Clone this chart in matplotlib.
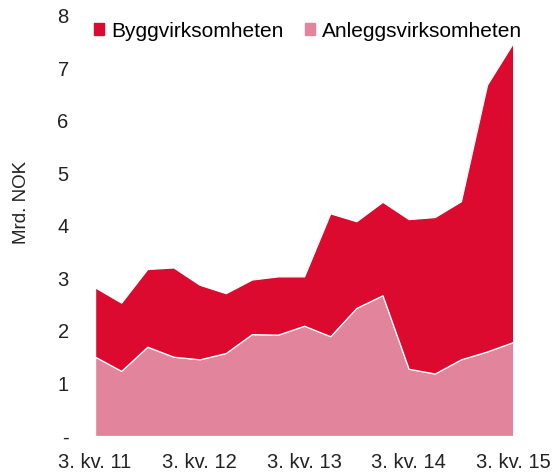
import numpy as np
import matplotlib
matplotlib.use('Agg')
import matplotlib.pyplot as plt
from matplotlib.patches import Patch

plt.rcParams['font.family'] = ['Liberation Sans', 'DejaVu Sans']

# quarterly values, 3. kv. 2011 - 3. kv. 2015 (mrd. NOK)
quarters = ['3. kv. 11', '4. kv. 11', '1. kv. 12', '2. kv. 12', '3. kv. 12', '4. kv. 12',
            '1. kv. 13', '2. kv. 13', '3. kv. 13', '4. kv. 13', '1. kv. 14', '2. kv. 14',
            '3. kv. 14', '4. kv. 14', '1. kv. 15', '2. kv. 15', '3. kv. 15']
anlegg = [1.51, 1.24, 1.70, 1.51, 1.46, 1.58, 1.94, 1.93, 2.10, 1.90, 2.44, 2.68,
          1.28, 1.19, 1.46, 1.61, 1.79]
total = [2.83, 2.54, 3.18, 3.21, 2.88, 2.72, 2.98, 3.04, 3.04, 4.24, 4.09, 4.46,
         4.13, 4.17, 4.47, 6.69, 7.49]
bygg = [t - a for t, a in zip(total, anlegg)]

yticks = [0, 1, 2, 3, 4, 5, 6, 7, 8]
ytick_labels = ['-', '1', '2', '3', '4', '5', '6', '7', '8']

red = '#db0a2e'
pink = '#e2849b'

fig = plt.figure(figsize=(5.56, 4.72), dpi=100)
ax = fig.add_axes([0.171, 0.0763, 0.752, 0.890])

x = np.arange(len(quarters))
ax.stackplot(x, anlegg, bygg, colors=[pink, red], edgecolor='white', linewidth=0.9)

ax.set_xlim(0, len(quarters) - 1)
ax.set_ylim(0, 8)
ax.set_yticks(yticks)
ax.set_yticklabels(ytick_labels)
ax.set_xticks(x[::4])
ax.set_xticklabels(quarters[::4])
ax.tick_params(axis='both', length=0, labelsize=14.5, colors='#222222')
ax.tick_params(axis='y', pad=19)
ax.tick_params(axis='x', pad=12)
for s in ax.spines.values():
    s.set_visible(False)
ax.set_ylabel('Mrd. NOK', fontsize=13.5, color='#222222')
ax.yaxis.set_label_coords(-0.155, 0.557)

handles = [Patch(color=red, label='Byggvirksomheten'),
           Patch(color=pink, label='Anleggsvirksomheten')]
fig.legend(handles=handles, loc='center left', bbox_to_anchor=(0.135, 0.934),
           ncol=2, frameon=False, fontsize=15, handlelength=0.5, handleheight=0.5,
           handletextpad=0.35, columnspacing=1.0)

fig.savefig('out.png', dpi=100)
